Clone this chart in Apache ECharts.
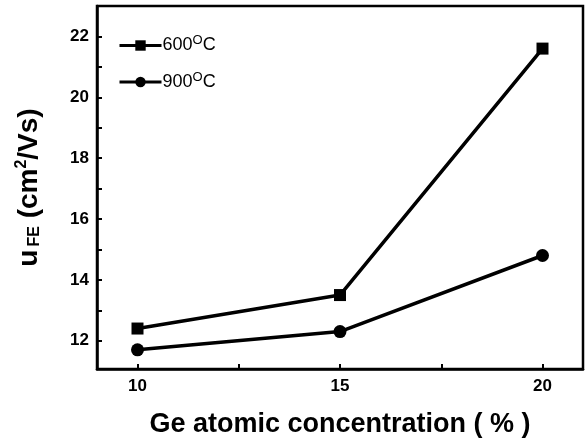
<!DOCTYPE html>
<html>
<head>
<meta charset="utf-8">
<script src="https://cdn.jsdelivr.net/npm/echarts@6/dist/echarts.min.js"></script>
<style>
  html, body { margin: 0; padding: 0; background: #fff; }
  #chart { width: 587px; height: 443px; }
</style>
</head>
<body>
<div id="chart"></div>
<script>
// Ge atomic concentration (%)
const concentrations = [10, 15, 20];
// field-effect mobility (cm^2/Vs)
const mobility600 = [12.4, 13.5, 21.6];
const mobility900 = [11.7, 12.3, 14.8];
const xTickLabels = [10, 15, 20];
const yTickLabels = [12, 14, 16, 18, 20, 22];

const font = 'Arial, "Liberation Sans", sans-serif';

const chart = echarts.init(document.getElementById('chart'));

const pairs = (xs, ys) => xs.map((x, i) => [x, ys[i]]);

const option = {
  animation: false,
  grid: {
    left: 97,
    right: 4,
    top: 6,
    bottom: 73,
    show: true,
    borderColor: '#000',
    borderWidth: 2.5,
    backgroundColor: 'transparent'
  },
  legend: {
    orient: 'vertical',
    left: 113,
    top: 29,
    itemWidth: 42,
    itemHeight: 13,
    itemGap: 16,
    data: ['600C', '900C'],
    formatter: name => name.slice(0, 3) + '{s|O}C',
    lineStyle: { width: 3, color: '#000' },
    textStyle: {
      fontFamily: font,
      fontSize: 18,
      color: '#000',
      padding: [0, 0, 0, -4],
      rich: {
        s: { fontSize: 13, fontFamily: font, color: '#000', padding: [0, 0, 10, 0] }
      }
    }
  },
  xAxis: {
    type: 'value',
    min: 9,
    max: 21,
    name: 'Ge atomic concentration ( % )',
    nameLocation: 'middle',
    nameGap: 42,
    nameTextStyle: { fontFamily: font, fontSize: 27, fontWeight: 'bold', color: '#000' },
    axisLine: { lineStyle: { color: '#000', width: 2.5 } },
    axisTick: {
      inside: true,
      length: 5,
      customValues: [10, 12.5, 15, 17.5, 20],
      lineStyle: { color: '#000', width: 2 }
    },
    axisLabel: {
      customValues: xTickLabels,
      margin: 9,
      fontFamily: font,
      fontWeight: 'bold',
      fontSize: 17,
      color: '#000'
    },
    splitLine: { show: false }
  },
  yAxis: {
    type: 'value',
    min: 11.07,
    max: 23,
    name: 'u{sub|FE} (cm{sup|2}/Vs)',
    nameLocation: 'middle',
    nameRotate: 90,
    nameGap: 53,
    nameTextStyle: {
      fontFamily: font,
      fontSize: 28,
      fontWeight: 'bold',
      color: '#000',
      rich: {
        sub: { fontFamily: font, fontSize: 16, fontWeight: 'bold', color: '#000', padding: [12, 0, 0, 3] },
        sup: { fontFamily: font, fontSize: 16, fontWeight: 'bold', color: '#000', padding: [0, 0, 14, 0] }
      }
    },
    axisLine: { lineStyle: { color: '#000', width: 2.5 } },
    axisTick: {
      inside: true,
      length: 5,
      customValues: [12, 13, 14, 15, 16, 17, 18, 19, 20, 21, 22],
      lineStyle: { color: '#000', width: 2 }
    },
    axisLabel: {
      customValues: yTickLabels,
      margin: 8,
      fontFamily: font,
      fontWeight: 'bold',
      fontSize: 17,
      color: '#000'
    },
    splitLine: { show: false }
  },
  series: [
    {
      name: '600C',
      type: 'line',
      data: pairs(concentrations, mobility600),
      symbol: 'rect',
      symbolSize: 12,
      lineStyle: { color: '#000', width: 3.5 },
      itemStyle: { color: '#000' }
    },
    {
      name: '900C',
      type: 'line',
      data: pairs(concentrations, mobility900),
      symbol: 'circle',
      symbolSize: 13,
      lineStyle: { color: '#000', width: 3.5 },
      itemStyle: { color: '#000' }
    }
  ]
};

chart.setOption(option);
</script>
</body>
</html>
